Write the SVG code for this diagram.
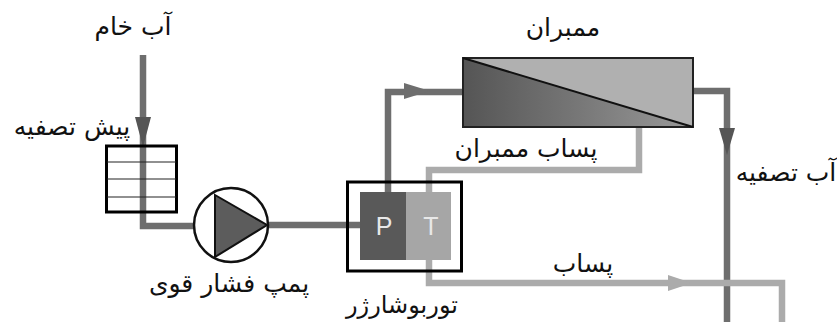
<svg xmlns="http://www.w3.org/2000/svg" width="837" height="322" viewBox="0 0 837 322">
<style>
.t{font-family:"DejaVu Sans",sans-serif;font-size:25px;fill:#111;text-anchor:middle;direction:rtl}
.d{fill:none;stroke:#6e6e6e;stroke-width:6.500}
.l{fill:none;stroke:#ababab;stroke-width:6.500}
.b{fill:none;stroke:#000;stroke-width:3}
.k{font-family:"Liberation Sans",sans-serif;font-size:25px;fill:#e8e8e8;text-anchor:middle}
</style>
<defs>
<linearGradient id="g" x1="0" x2="1" y1="0" y2="0"><stop offset="0" stop-color="#555"/><stop offset="1" stop-color="#999"/></linearGradient>
</defs>
<rect width="837" height="322" fill="#fff"/>
<g id="connectors">
<path class="d" d="M143 55V226H197"/>
<path class="d" d="M268 225H360"/>
<path class="d" d="M388 192V92H463"/>
<path class="d" d="M693 91H727V322"/>
<path class="l" d="M639 127V170H429V192"/>
<path class="l" d="M429 260V283H782V322"/>
<polygon points="135,117 151,117 143,147" fill="#555"/>
<polygon points="404,83 404,99 430,91" fill="#6e6e6e"/>
<polygon points="719,128 735,128 727,155" fill="#555"/>
<polygon points="668,275 668,291 692,283" fill="#ababab"/>
</g>
<g id="filter">
<rect x="106.500" y="146" width="70" height="66" class="b"/>
<path d="M107 162H176M107 179H176M107 197H176" stroke="#222" stroke-width="1.200" fill="none"/>
<text class="t" x="72" y="135">پیش تصفیه</text>
</g>
<g id="raw"><text class="t" x="133" y="35">آب خام</text></g>
<g id="pump">
<circle cx="231" cy="225" r="37" fill="#fff" stroke="#111" stroke-width="2.500"/>
<polygon points="215,195 267,225 215,257" fill="#5c5c5c" stroke="#111" stroke-width="2"/>
<text class="t" x="229" y="292">پمپ فشار قوی</text>
</g>
<g id="turbo">
<rect x="360" y="192" width="46" height="68" fill="#595959"/>
<rect x="406" y="192" width="45" height="68" fill="#a6a6a6"/>
<rect x="347.500" y="182" width="114" height="89" class="b"/>
<text class="k" x="384" y="235">P</text>
<text class="k" x="431" y="235">T</text>
<text class="t" x="402" y="313" style="font-size:24px">توربوشارژر</text>
</g>
<g id="membrane">
<rect x="463" y="58" width="230" height="69" fill="#b0b0b0"/>
<polygon points="463,58 693,127 463,127" fill="url(#g)"/>
<rect x="463" y="58" width="230" height="69" fill="none" stroke="#222" stroke-width="2"/>
<path d="M463 58L693 127" stroke="#111" stroke-width="2"/>
<text class="t" x="563" y="36">ممبران</text>
</g>
<g id="labels">
<text class="t" x="526" y="157">پساب ممبران</text>
<text class="t" x="786" y="181">آب تصفیه</text>
<text class="t" x="583" y="272">پساب</text>
</g>
</svg>
